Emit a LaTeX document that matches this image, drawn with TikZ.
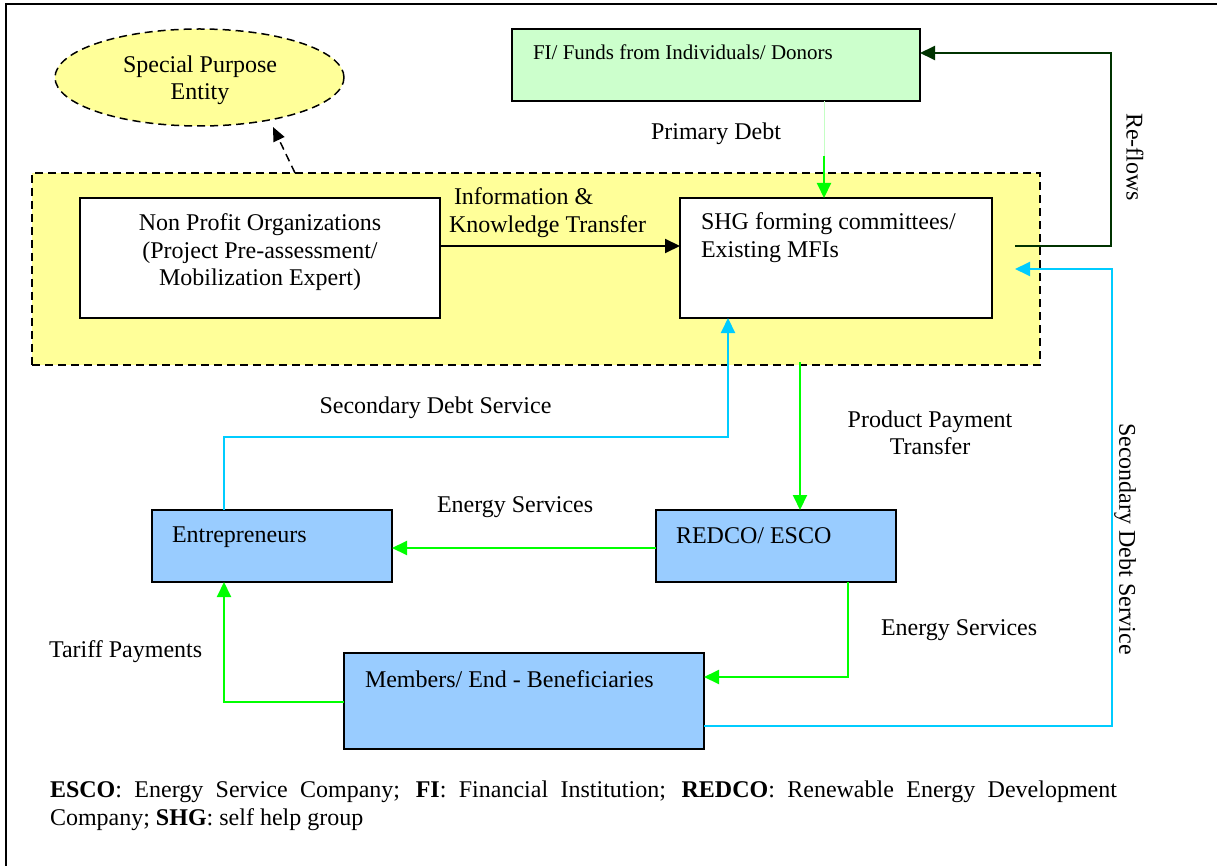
\documentclass[tikz,border=0pt]{standalone}
\usepackage{fontspec}
\setmainfont{Liberation Serif}
\usetikzlibrary{arrows.meta,shapes.geometric}
\definecolor{ylw}{HTML}{FFFF99}
\definecolor{lgrn}{HTML}{CCFFCC}
\definecolor{lblu}{HTML}{99CCFF}
\definecolor{grn}{HTML}{00FF00}
\definecolor{cyn}{HTML}{00CCFF}
\definecolor{dgrn}{HTML}{003300}
\definecolor{pgrn}{HTML}{C4FFC4}
\begin{document}
\begin{tikzpicture}[x=1pt,y=-1pt,
  every node/.style={font=\fontsize{24}{28}\selectfont, inner sep=0pt, outer sep=0pt},
  box/.style={draw=black, line width=2pt, anchor=north west},
  txt/.style={anchor=base west},
  ctxt/.style={anchor=base},
  dsh/.style={dash pattern=on 8pt off 5pt},
  arr/.style={line width=2pt, -{Triangle[length=15pt,width=14pt]}},
  darr/.style={line width=1.5pt, dsh, -{Triangle[length=14pt,width=12pt]}}]
\useasboundingbox (0,0) rectangle (1217,866);
% outer frame (top and left edges)
\draw[line width=2pt] (6,866) -- (6,4) -- (1217,4);
% special purpose vehicle area
\node[box, line width=1.5pt, dsh, fill=ylw, minimum width=1008pt, minimum height=192pt] (spv) at (32,173) {};
\node[ellipse, draw=black, line width=1.5pt, dsh, fill=ylw, minimum width=289pt, minimum height=97pt] (spe) at (199.5,77.5) {};
\node[ctxt] (spe1) at (200,73) {Special Purpose};
\node[ctxt] (spe2) at (200,100) {Entity};
% boxes
\node[box, fill=white, minimum width=360pt, minimum height=120pt] (npo) at (80,198) {};
\node[box, fill=white, minimum width=312pt, minimum height=120pt] (shg) at (680,198) {};
\node[box, fill=lgrn, minimum width=408pt, minimum height=72pt] (fi) at (512,29) {};
\node[box, fill=lblu, minimum width=240pt, minimum height=72pt] (redco) at (656,510) {};
\node[box, fill=lblu, minimum width=240pt, minimum height=72pt] (entre) at (152,510) {};
\node[box, fill=lblu, minimum width=360pt, minimum height=96pt] (memb) at (344,653) {};
% box texts
\node[txt, font=\fontsize{21}{25}\selectfont] (fit) at (533,60) {FI/ Funds from Individuals/ Donors};
\node[ctxt] (npo1) at (260,231) {Non Profit Organizations};
\node[ctxt] (npo2) at (260,259) {(Project Pre-assessment/};
\node[ctxt] (npo3) at (260,286) {Mobilization Expert)};
\node[txt] (shg1) at (701,230) {SHG forming committees/};
\node[txt] (shg2) at (701,258) {Existing MFIs};
\node[txt] (redcot) at (676,543) {REDCO/ ESCO};
\node[txt] (entret) at (172,542) {Entrepreneurs};
\node[txt] (membt) at (365,687) {Members/ End - Beneficiaries};
% free connector ends
\coordinate (spvtop) at (295,173);
\coordinate (spetip) at (273,127);
\coordinate (pd) at (824,156);
\coordinate (rf0) at (1015,246);
\coordinate (sd1) at (1015,269);
\coordinate (pp) at (800,362);
% connectors
\draw[darr] (spvtop) -- (spetip);
\draw[arr, black] ([yshift=12pt]npo.east) -- ([yshift=12pt]shg.west);
\draw[line width=1pt, pgrn] ([xshift=108pt]fi.south) -- (pd);
\draw[arr, grn] (pd) -- ([xshift=-12pt]shg.north);
\draw[arr, dgrn] (rf0) -- ++(96,0) |- ([yshift=12pt]fi.east);
\draw[arr, cyn] ([yshift=-25pt]memb.east) -- ++(408,0) |- (sd1);
\draw[arr, grn] (pp) -- (pp |- redco.north);
\draw[arr, grn] ([yshift=-2pt]redco.west) -- ([yshift=-2pt]entre.east);
\draw[arr, grn] ([xshift=72pt]redco.south) |- ([yshift=24pt]memb.east);
\draw[arr, grn] ([yshift=-1pt]memb.west) -| ([xshift=-48pt]entre.south);
\draw[arr, cyn] ([xshift=-48pt]entre.north) -- ++(0,-73) -| ([xshift=-108pt]shg.south);
% connector labels
\node[ctxt] (pdl) at (716,140) {Primary Debt};
\node[txt] (ik1) at (454,205) {Information \&};
\node[txt] (ik2) at (449,233) {Knowledge Transfer};
\node[rotate=-90] (rfl) at (1135,157) {Re-flows};
\node[ctxt] (sdl) at (435.5,413) {Secondary Debt Service};
\node[rotate=-90] (sdr) at (1125,539) {Secondary Debt Service};
\node[ctxt] (ppl1) at (930,427) {Product Payment};
\node[ctxt] (ppl2) at (930,454) {Transfer};
\node[txt] (esl1) at (437,512) {Energy Services};
\node[txt] (esl2) at (881,635) {Energy Services};
\node[txt] (tpl) at (49,657) {Tariff Payments};
% footnote
\node[anchor=base west, text width=1067pt, align=justify] (note) at (50,797)
 {\textbf{ESCO}: Energy Service Company; \textbf{FI}: Financial Institution; \textbf{REDCO}: Renewable Energy Development\linebreak Company; \textbf{SHG}: self help group};
\end{tikzpicture}
\end{document}
